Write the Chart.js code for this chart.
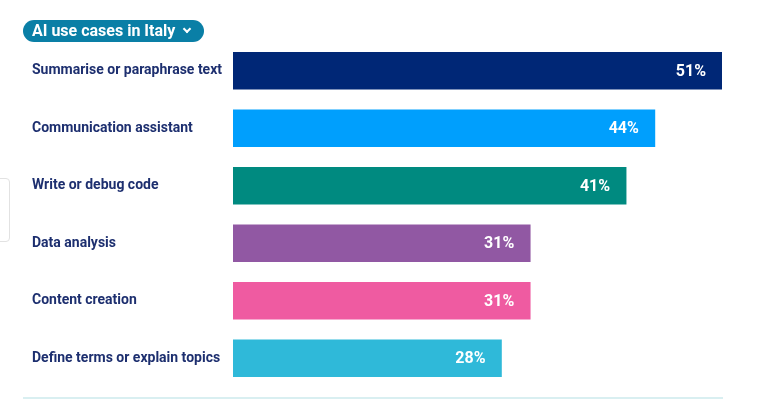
<!DOCTYPE html>
<html>
<head>
<meta charset="utf-8">
<script src="https://cdn.jsdelivr.net/npm/chart.js@4"></script>
<style>
  html, body { margin: 0; padding: 0; background: #fff; }
  #wrap { position: relative; width: 775px; height: 404px; overflow: hidden; font-family: Roboto, sans-serif; }
  #title {
    position: absolute; left: 23px; top: 20px; height: 22px; padding: 0 29px 0 9px;
    background: #0a7fa6; color: #fff; border-radius: 11px;
    font: bold 16px Roboto, sans-serif; line-height: 22px; white-space: nowrap;
  }
  #title .chev {
    position: absolute; right: 14px; top: 6px; width: 4px; height: 4px;
    border-right: 2px solid #fff; border-bottom: 2px solid #fff; transform: rotate(45deg);
  }
  #rule { position: absolute; left: 23px; top: 397px; width: 700px; height: 2px; background: #d9eff1; }
  #ghost { position: absolute; left: -8px; top: 178px; width: 16px; height: 62px; border: 1px solid #e2e2e2; border-radius: 4px; }
  #chart { position: absolute; left: 0; top: 0; }
</style>
</head>
<body>
<div id="wrap">
  <div id="ghost"></div>
  <canvas id="chart" width="775" height="404"></canvas>
  <div id="title">AI use cases in Italy<span class="chev"></span></div>
  <div id="rule"></div>
</div>
<script>
// AI use cases in Italy - share of users (%)
const categories = [
    'Summarise or paraphrase text',
    'Communication assistant',
    'Write or debug code',
    'Data analysis',
    'Content creation',
    'Define terms or explain topics'
];
const shares = [51, 44, 41, 31, 31, 28];
const barColors = ['#002776', '#009ffd', '#008a80', '#9158a3', '#ef5ba1', '#2fb9d9'];

// white value labels inside the bar end
const valueLabels = {
    id: 'valueLabels',
    afterDatasetsDraw(chart) {
        const ctx = chart.ctx;
        const meta = chart.getDatasetMeta(0);
        ctx.save();
        ctx.fillStyle = '#ffffff';
        ctx.font = 'bold 16px Roboto, sans-serif';
        ctx.textAlign = 'right';
        ctx.textBaseline = 'middle';
        meta.data.forEach((bar, i) => {
            ctx.fillText(shares[i] + '%', bar.x - 16, bar.y + 1);
        });
        ctx.restore();
    }
};

const ctx = document.getElementById('chart').getContext('2d');
const useCasesChart = new Chart(ctx, {
    type: 'bar',
    data: {
        labels: categories,
        datasets: [{
            data: shares,
            backgroundColor: barColors,
            borderWidth: 0,
            barThickness: 37
        }]
    },
    options: {
        indexAxis: 'y',
        responsive: false,
        animation: false,
        layout: {
            padding: { left: 32, right: 53, top: 42, bottom: 17 }
        },
        plugins: {
            legend: { display: false },
            tooltip: { enabled: false }
        },
        scales: {
            x: {
                display: false,
                min: 0,
                max: 51
            },
            y: {
                afterFit(scale) { scale.width = 201; },
                grid: { display: false },
                border: { display: false },
                ticks: {
                    crossAlign: 'far',
                    padding: 0,
                    color: '#1d2f6f',
                    font: { family: 'Roboto', weight: 'bold', size: 14 }
                }
            }
        }
    },
    plugins: [valueLabels]
});
</script>
</body>
</html>
